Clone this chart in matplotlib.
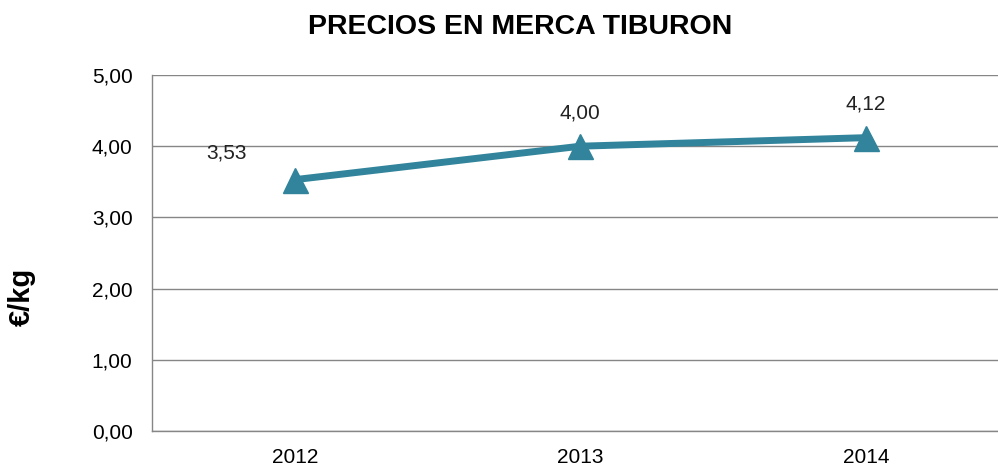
import matplotlib
matplotlib.use("Agg")
import matplotlib.pyplot as plt

years = ["2012", "2013", "2014"]
prices = [3.53, 4.00, 4.12]
labels = ["3,53", "4,00", "4,12"]
yticks = [0, 1, 2, 3, 4, 5]
ytick_labels = ["0,00", "1,00", "2,00", "3,00", "4,00", "5,00"]

plt.rcParams['font.family'] = ['Liberation Sans', 'DejaVu Sans']
fig = plt.figure(figsize=(9.98, 4.71), dpi=100)
ax = fig.add_axes([152/998, 1-431/471, (1008.5-152)/998, (431-75)/471])

color = "#31849B"
x = list(range(len(years)))
ax.plot(x, prices, color=color, linewidth=5, marker="^", markersize=18, zorder=3, clip_on=False)

offsets = [(-49, 19), (0, 24), (0, 24.5)]
for xi, yi, lab, off in zip(x, prices, labels, offsets):
    ax.annotate(lab, (xi, yi), xytext=off, textcoords="offset points", ha="center",
                va="center", fontsize=15, color="#222222")

ax.set_xlim(-0.5, 2.5)
ax.set_ylim(0, 5)
ax.set_xticks(x)
ax.set_xticklabels(years, fontsize=15)
ax.set_yticks(yticks)
ax.set_yticklabels(ytick_labels, fontsize=15)
ax.tick_params(axis="y", length=0, pad=14)
ax.tick_params(axis="x", length=0, pad=12)
ax.grid(axis="y", color="#868686", linewidth=1)
ax.set_axisbelow(True)
for s in ["top", "right"]:
    ax.spines[s].set_visible(False)
for s in ["left", "bottom"]:
    ax.spines[s].set_color("#868686")
    ax.spines[s].set_linewidth(1)

fig.text(520/998, 1-26.5/471, "PRECIOS EN MERCA TIBURON", ha="center", va="center",
         fontsize=20.5, fontweight="bold")
fig.text(22/998, 1-297/471, "€/kg", rotation=90, ha="center", va="center",
         fontsize=21, fontweight="bold")

fig.savefig("out.png", dpi=100)
